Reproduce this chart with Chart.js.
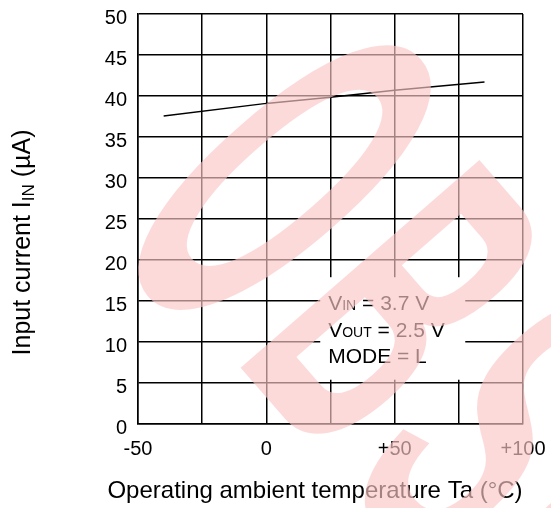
<!DOCTYPE html>
<html>
<head>
<meta charset="utf-8">
<script src="https://cdn.jsdelivr.net/npm/chart.js@4.4.1/dist/chart.umd.min.js"></script>
<style>
  html, body { margin: 0; padding: 0; background: #fff; }
  #wrap { width: 551px; height: 508px; }
</style>
</head>
<body>
<div id="wrap"><canvas id="c" width="551" height="508"></canvas></div>
<script>
// ---- data ----
const temperatures = [-40, 0, 25, 50, 85];          // Ta (°C)
const inputCurrent = [37.55, 39.1, 39.85, 40.7, 41.7]; // IIN (µA)
const xTickLabels = { '-50': '-50', '0': '0', '50': '+50', '100': '+100' };
const xTickValues = [-50, -25, 0, 25, 50, 75, 100];
const yTickValues = [0, 5, 10, 15, 20, 25, 30, 35, 40, 45, 50];
const xTitleParts = [['Operating ambient temperature Ta (°C)', false]];
const yTitleParts = [['Input current I', false], ['IN', true], [' (µA)', false]];
const noteLines = [
  [['V', false], ['IN', true], [' = 3.7 V', false]],
  [['V', false], ['OUT', true], [' = 2.5 V', false]],
  [['MODE = L', false]]
];
const watermarkText = 'OBSOLETE';

// ---- styles / placement (data units for the note) ----
const FONT = "'Liberation Sans', Arial, Helvetica, sans-serif";
const noteX = 24.1;
const noteBaselines = [13.9, 10.6, 7.4];
const noteBox = { x0: 21.0, x1: 77.5, y0: 5.4, y1: 17.9 };

function drawParts(ctx, parts, x, y, size, subSize, subShift) {
  let pen = x;
  for (const [t, sub] of parts) {
    ctx.font = (sub ? subSize : size) + 'px ' + FONT;
    ctx.fillText(t, pen, y + (sub ? subShift : 0));
    pen += ctx.measureText(t).width;
  }
  return pen - x;
}
function measureParts(ctx, parts, size, subSize) {
  let w = 0;
  for (const [t, sub] of parts) {
    ctx.font = (sub ? subSize : size) + 'px ' + FONT;
    w += ctx.measureText(t).width;
  }
  return w;
}
function zeroPad(s) { s.paddingTop = 0; s.paddingBottom = 0; s.paddingLeft = 0; s.paddingRight = 0; }

const decor = {
  id: 'decor',
  beforeDatasetsDraw(chart) {
    const { ctx, scales: { x, y } } = chart;
    ctx.save();
    ctx.fillStyle = '#fff';
    const L = x.getPixelForValue(noteBox.x0), R = x.getPixelForValue(noteBox.x1);
    const T = y.getPixelForValue(noteBox.y1), B = y.getPixelForValue(noteBox.y0);
    ctx.fillRect(L, T, R - L, B - T);
    ctx.restore();
  },
  afterDraw(chart) {
    const { ctx, scales: { x, y } } = chart;
    ctx.save();
    ctx.fillStyle = '#000';
    ctx.textBaseline = 'alphabetic';
    ctx.textAlign = 'left';
    // note
    noteLines.forEach((parts, i) => {
      drawParts(ctx, parts, x.getPixelForValue(noteX), y.getPixelForValue(noteBaselines[i]), 21, 14, 0);
    });
    // x title
    const wx = measureParts(ctx, xTitleParts, 24, 16);
    drawParts(ctx, xTitleParts, 315 - wx / 2, 498, 24, 16, 0);
    // y title
    const wy = measureParts(ctx, yTitleParts, 25, 17);
    ctx.save();
    ctx.translate(30, 242.5);
    ctx.rotate(-Math.PI / 2);
    drawParts(ctx, yTitleParts, -wy / 2, 0, 25, 17, 4);
    ctx.restore();

    // watermark (translucent overlay)
    ctx.save();
    ctx.fillStyle = 'rgba(252,198,198,0.655)';
    ctx.translate(240, 367);
    ctx.rotate(49 * Math.PI / 180);
    const s = 0.43;
    ctx.scale(s, 1);
    ctx.font = 'bold 460px ' + FONT;
    const bm = ctx.measureText('B');
    const extra = 18 / s;
    let pen = bm.actualBoundingBoxLeft - ctx.measureText('O').width - extra;
    for (const ch of watermarkText) {
      if (ch === 'O' && pen < 0) {
        const cy = -165, k = 1.11;
        ctx.save();
        ctx.translate(0, cy); ctx.scale(1, k); ctx.translate(0, -cy);
        ctx.fillText(ch, pen - 6 / s, 0);
        ctx.restore();
      } else {
        ctx.fillText(ch, pen, 0);
      }
      pen += ctx.measureText(ch).width + extra;
    }
    ctx.restore();
    ctx.restore();
  }
};

new Chart(document.getElementById('c'), {
  type: 'line',
  data: {
    datasets: [{
      data: temperatures.map((t, i) => ({ x: t, y: inputCurrent[i] })),
      borderColor: '#000',
      borderWidth: 1.5,
      pointRadius: 0,
      fill: false,
      tension: 0
    }]
  },
  options: {
    responsive: false,
    animation: false,
    devicePixelRatio: 1,
    layout: { padding: { left: 0, right: 28, top: 14, bottom: 0 } },
    plugins: { legend: { display: false }, tooltip: { enabled: false } },
    scales: {
      x: {
        type: 'linear', min: -50, max: 100,
        afterBuildTicks(s) { s.ticks = xTickValues.map(v => ({ value: v })); },
        ticks: {
          autoSkip: false, maxRotation: 0, color: '#000', padding: 13,
          font: { size: 20, family: FONT },
          callback: v => xTickLabels[String(v)] ?? ''
        },
        grid: { color: '#000', lineWidth: 1.5, drawTicks: false },
        border: { color: '#000', width: 1.5 },
        afterFit(s) { s.height = 84; zeroPad(s); }
      },
      y: {
        min: 0, max: 50,
        afterBuildTicks(s) { s.ticks = yTickValues.map(v => ({ value: v })); },
        ticks: {
          color: '#000', padding: 11, labelOffset: 4,
          font: { size: 20, family: FONT }
        },
        grid: { color: '#000', lineWidth: 1.5, drawTicks: false },
        border: { color: '#000', width: 1.5 },
        afterFit(s) { s.width = 138; zeroPad(s); }
      }
    }
  },
  plugins: [decor]
});
</script>
</body>
</html>
